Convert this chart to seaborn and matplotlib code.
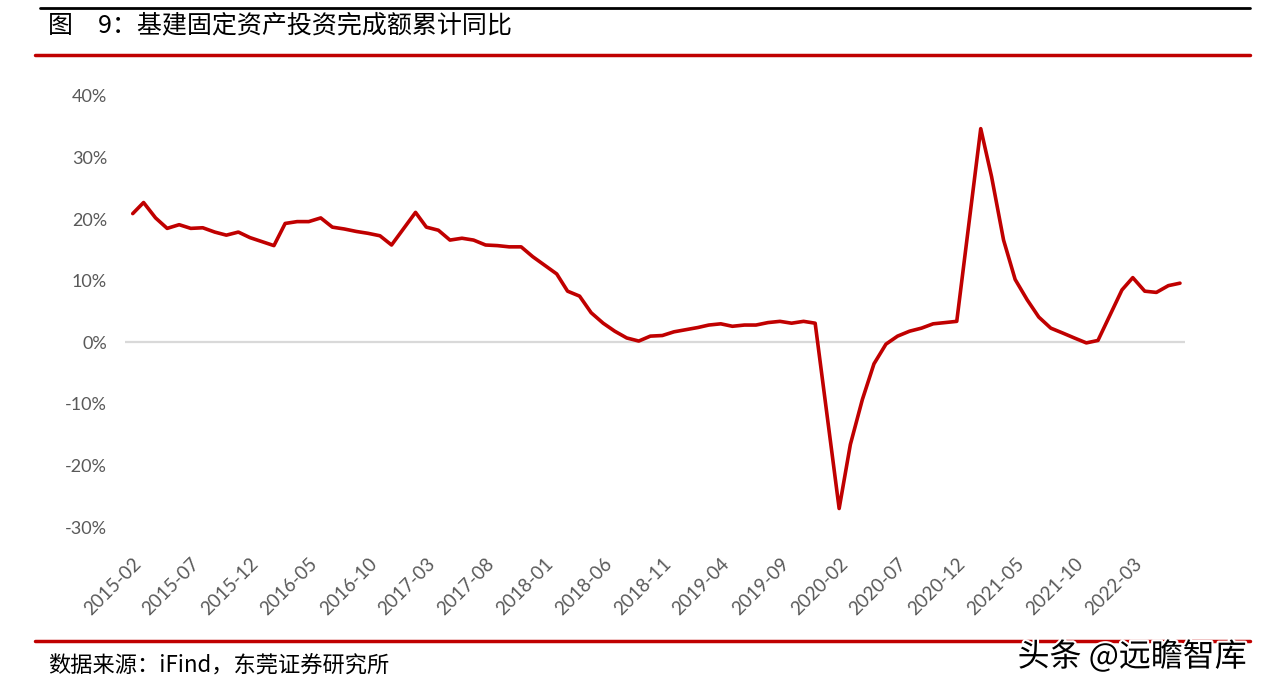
import pandas as pd
import seaborn as sns
import matplotlib.pyplot as plt
import matplotlib.patheffects as pe
from matplotlib.lines import Line2D

# Cumulative YoY growth of infrastructure fixed-asset investment (%)
# January is not published, so every year starts in February
yoy_2015 = [20.9, 22.7, 20.2, 18.5, 19.1, 18.5, 18.6, 17.9, 17.4, 17.9, 17.0]
yoy_2016 = [15.7, 19.3, 19.6, 19.6, 20.2, 18.7, 18.4, 18.0, 17.7, 17.3, 15.8]
yoy_2017 = [21.1, 18.7, 18.2, 16.6, 16.9, 16.6, 15.8, 15.7, 15.5, 15.5, 13.9]
yoy_2018 = [11.1, 8.3, 7.5, 4.8, 3.1, 1.8, 0.7, 0.2, 1.0, 1.1, 1.7]
yoy_2019 = [2.4, 2.8, 3.0, 2.6, 2.8, 2.8, 3.2, 3.4, 3.1, 3.4, 3.1]
yoy_2020 = [-27.0, -16.6, -9.3, -3.5, -0.3, 1.0, 1.8, 2.3, 3.0, 3.2, 3.4]
yoy_2021 = [34.7, 26.9, 16.6, 10.2, 6.9, 4.1, 2.3, 1.5, 0.7, -0.1, 0.3]
yoy_2022 = [8.5, 10.5, 8.3, 8.1, 9.2, 9.6]

years = [2015, 2016, 2017, 2018, 2019, 2020, 2021, 2022]
series = [yoy_2015, yoy_2016, yoy_2017, yoy_2018, yoy_2019, yoy_2020, yoy_2021, yoy_2022]

tick_labels = ['2015-02', '2015-07', '2015-12', '2016-05', '2016-10', '2017-03',
               '2017-08', '2018-01', '2018-06', '2018-11', '2019-04', '2019-09',
               '2020-02', '2020-07', '2020-12', '2021-05', '2021-10', '2022-03']
y_ticks = [-30, -20, -10, 0, 10, 20, 30, 40]

title = '图\u30009：基建固定资产投资完成额累计同比'
source = '数据来源：iFind，东莞证券研究所'
watermark = '头条 @远瞻智库'

# build a long table: month -> value
rows = []
for yr, vals in zip(years, series):
    for i, v in enumerate(vals):
        rows.append({'date': pd.Timestamp(year=yr, month=i + 2, day=1), 'yoy': v})
df = pd.DataFrame(rows)

sns.set_theme(style='white')
plt.rcParams['font.family'] = ['Lato', 'Noto Sans CJK SC', 'DejaVu Sans']
plt.rcParams['axes.unicode_minus'] = False

fig = plt.figure(figsize=(12.71, 6.90), dpi=100)
ax = fig.add_axes([125 / 1271, 1 - 527 / 690, 1060 / 1271, 431 / 690])

ax.axhline(0, color='#d9d9d9', linewidth=1.6, zorder=1)
sns.lineplot(data=df, x='date', y='yoy', ax=ax, color='#c00000', linewidth=2.6, zorder=3)

ax.set_ylim(-30, 40)
ax.set_yticks(y_ticks)
ax.set_yticklabels([f'{v}%' for v in y_ticks])
ax.set_xlim(pd.Timestamp('2015-01-12'), pd.Timestamp('2022-07-14'))
ax.set_xticks(pd.to_datetime(tick_labels))
ax.set_xticklabels(tick_labels, rotation=45, ha='right', rotation_mode='anchor')
ax.tick_params(axis='y', length=0, pad=13, labelsize=13, labelcolor='#595959')
ax.tick_params(axis='x', length=0, pad=20, labelsize=13.5, labelcolor='#595959')
ax.set_xlabel('')
ax.set_ylabel('')
ax.grid(False)
for s in ax.spines.values():
    s.set_visible(False)

# frame lines of the report figure
fig.add_artist(Line2D([40 / 1271, 1250 / 1271], [1 - 8 / 690] * 2, color='black', linewidth=2))
fig.add_artist(Line2D([35 / 1271, 1250 / 1271], [1 - 55 / 690] * 2, color='#c00000', linewidth=2.5))
fig.add_artist(Line2D([35 / 1271, 1250 / 1271], [1 - 641 / 690] * 2, color='#c00000', linewidth=2.5))

fig.text(48 / 1271, 1 - 25 / 690, title, fontsize=18, color='black', va='center',
         family=['Noto Sans CJK SC', 'DejaVu Sans'], fontweight='medium')
fig.text(48 / 1271, 1 - 666 / 690, source, fontsize=16, color='black', va='center',
         family=['Noto Sans CJK SC', 'DejaVu Sans'])
fig.text(1247 / 1271, 1 - 657 / 690, watermark, fontsize=23, color='black', va='center', ha='right',
         family=['Noto Sans CJK SC', 'DejaVu Sans'],
         path_effects=[pe.withStroke(linewidth=3, foreground='white')])

fig.savefig('out.png', dpi=100)
